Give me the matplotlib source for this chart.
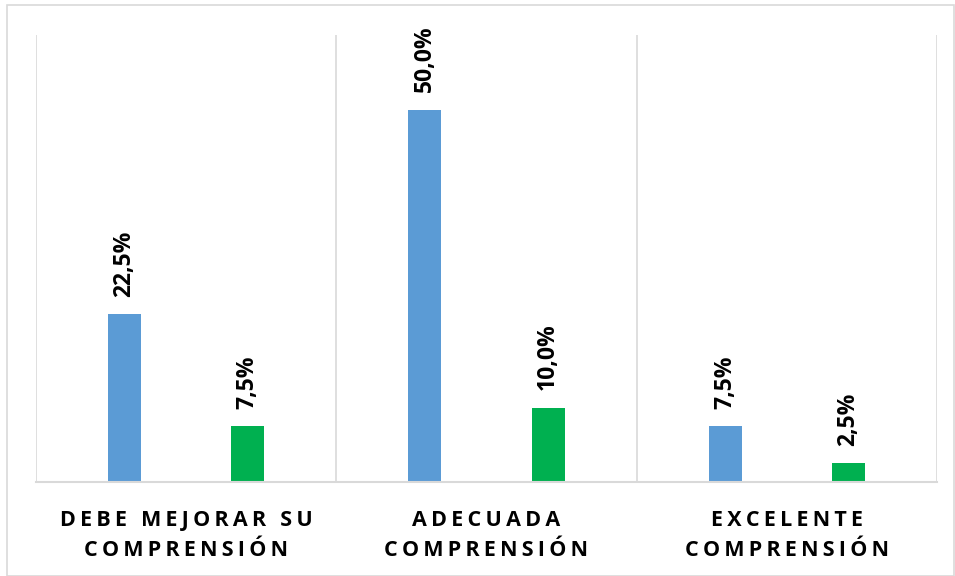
import numpy as np
import matplotlib.pyplot as plt
from matplotlib.patches import Rectangle

# Datos
categorias = ['DEBE MEJORAR SU\nCOMPRENSIÓN', 'ADECUADA\nCOMPRENSIÓN', 'EXCELENTE\nCOMPRENSIÓN']
serie_azul = [22.5, 50.0, 7.5]
serie_verde = [7.5, 10.0, 2.5]

plt.rcParams['font.family'] = ['Open Sans', 'DejaVu Sans']


def espaciar(texto):
    # simula el espaciado entre letras del original
    lineas = texto.split('\n')
    return '\n'.join('\u2009'.join(l) for l in lineas)


fig = plt.figure(figsize=(9.55, 5.76), dpi=100)
ax = fig.add_axes([36 / 955, 1 - 482 / 576, (937 - 36) / 955, (482 - 35) / 576])

x = np.arange(len(categorias))
ancho = 0.11
desp = 0.205
b1 = ax.bar(x - desp, serie_azul, ancho, color='#5b9bd5')
b2 = ax.bar(x + desp, serie_verde, ancho, color='#00b050')

for barras in (b1, b2):
    for b in barras:
        v = b.get_height()
        ax.annotate(f'{v:.1f}%'.replace('.', ','),
                    (b.get_x() + b.get_width() / 2, v),
                    xytext=(0, 17), textcoords='offset pixels',
                    rotation=90, ha='center', va='bottom',
                    fontsize=16.5, fontweight='bold')

ax.set_xlim(-0.5, 2.5)
ax.set_ylim(0, 60)
ax.set_yticks([])
ax.set_xticks(x)
ax.set_xticklabels([espaciar(c) for c in categorias], fontsize=15.5,
                   fontweight='bold', linespacing=1.6)
ax.tick_params(axis='x', length=0, pad=20)

for s in ('top', 'right', 'left'):
    ax.spines[s].set_visible(False)
ax.spines['bottom'].set_color('#d9d9d9')
ax.spines['bottom'].set_linewidth(1.5)
for xv in [-0.5, 0.5, 1.5, 2.5]:
    ax.axvline(xv, color='#d9d9d9', linewidth=1.2, zorder=0)

# borde exterior
fig.patches.append(Rectangle((7 / 955, 0), 1 - 8 / 955, 1 - 5 / 576,
                             transform=fig.transFigure, fill=False,
                             edgecolor='#d9d9d9', linewidth=1.2))

fig.savefig('out.png', dpi=100)
